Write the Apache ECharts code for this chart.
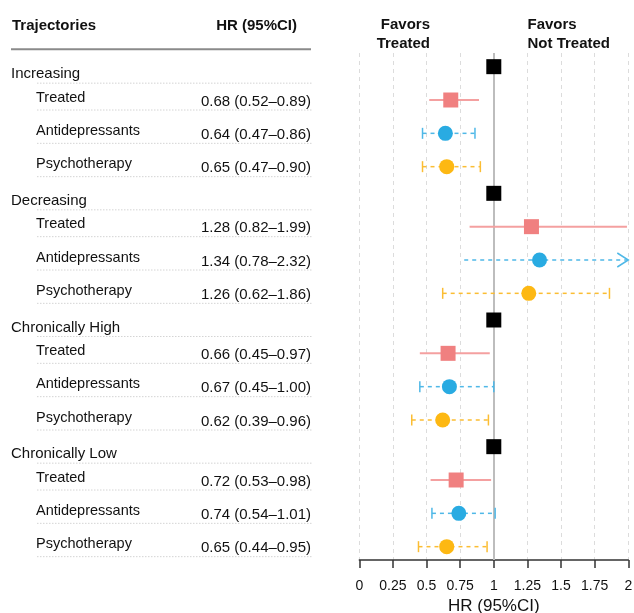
<!DOCTYPE html>
<html>
<head>
<meta charset="utf-8">
<title>Hazard ratios by trajectory</title>
<script src="https://cdn.jsdelivr.net/npm/echarts@6/dist/echarts.min.js"></script>
<style>
  html, body { margin: 0; padding: 0; background: #fff; }
  #chart { width: 634px; height: 613px; }
</style>
</head>
<body>
<div id="chart"></div>
<script>
// ---- data ----
const groups = ['Increasing', 'Decreasing', 'Chronically High', 'Chronically Low'];
const treatments = ['Treated', 'Antidepressants', 'Psychotherapy'];

const refHR = [1, 1, 1, 1];

const treatedHR = [0.68, 1.28, 0.66, 0.72];
const treatedLo = [0.52, 0.82, 0.45, 0.53];
const treatedHi = [0.89, 1.99, 0.97, 0.98];

const antiHR = [0.64, 1.34, 0.67, 0.74];
const antiLo = [0.47, 0.78, 0.45, 0.54];
const antiHi = [0.86, 2.32, 1.00, 1.01];

const psychHR = [0.65, 1.26, 0.62, 0.65];
const psychLo = [0.47, 0.62, 0.39, 0.44];
const psychHi = [0.90, 1.86, 0.96, 0.95];

const xTicks = [0, 0.25, 0.5, 0.75, 1, 1.25, 1.5, 1.75, 2];

// ---- layout of rows (in row units along the vertical value axis) ----
const FONT = "'Liberation Sans', Arial, Helvetica, sans-serif";
const FIRST_ROW = 0.41;
const GROUP_STEP = 3.8;
const Y_MAX = 15.21;
const X_MIN = xTicks[0];
const X_MAX = xTicks[xTicks.length - 1];

function groupPos(g) { return FIRST_ROW + g * GROUP_STEP; }
function rowPos(g, t) { return groupPos(g) + t + 1; }

const fmt = v => v.toFixed(2);
const hrLabel = (h, l, u) => fmt(h) + ' (' + fmt(l) + '\u2013' + fmt(u) + ')';

const estimates = [
  { hr: treatedHR, lo: treatedLo, hi: treatedHi },
  { hr: antiHR, lo: antiLo, hi: antiHi },
  { hr: psychHR, lo: psychLo, hi: psychHi }
];

// rows of the left-hand table
const tableRows = [];
groups.forEach((g, gi) => {
  tableRows.push({ pos: groupPos(gi), header: true, label: g, value: '' });
  treatments.forEach((t, ti) => {
    const e = estimates[ti];
    tableRows.push({
      pos: rowPos(gi, ti), header: false, label: t,
      value: hrLabel(e.hr[gi], e.lo[gi], e.hi[gi])
    });
  });
});

// ---- renderers ----
function tableRenderer(params, api) {
  const r = tableRows[api.value(1)];
  const y = api.coord([0, r.pos])[1];
  const xs = v => api.coord([v, r.pos])[0];
  const children = [];
  const sepY = r.header ? y + 16.5 : y + 10;
  children.push({
    type: 'line',
    shape: { x1: xs(37), y1: sepY, x2: xs(312), y2: sepY },
    style: { stroke: '#d4d4d4', lineWidth: 1, lineDash: [1.5, 1.5] }
  });
  if (r.header) {
    children.push({
      type: 'text',
      style: { text: r.label, x: xs(11), y: y + 7.5, fill: '#111',
        fontSize: 15, fontFamily: FONT,
        align: 'left', verticalAlign: 'middle', textAlign: 'left', textVerticalAlign: 'middle' }
    });
  } else {
    children.push({
      type: 'text',
      style: { text: r.label, x: xs(36), y: y - 2.5, fill: '#111',
        fontSize: 14.5, fontFamily: FONT,
        align: 'left', verticalAlign: 'middle', textAlign: 'left', textVerticalAlign: 'middle' }
    });
    children.push({
      type: 'text',
      style: { text: r.value, x: xs(311), y: y + 1.5, fill: '#111',
        fontSize: 15, fontFamily: FONT,
        align: 'right', verticalAlign: 'middle', textAlign: 'right', textVerticalAlign: 'middle' }
    });
  }
  return { type: 'group', children };
}

function barRenderer(lineStyle, withCaps) {
  return function (params, api) {
    const lo = api.value(0), hi = api.value(1), pos = api.value(2);
    const clipped = hi > X_MAX;
    const a = api.coord([Math.max(lo, X_MIN), pos]);
    const b = api.coord([Math.min(hi, X_MAX), pos]);
    const stroke = { stroke: lineStyle.color, lineWidth: lineStyle.width, lineDash: lineStyle.dash || null };
    const children = [{
      type: 'line',
      shape: { x1: a[0], y1: a[1], x2: b[0], y2: b[1] },
      style: stroke
    }];
    if (clipped) {
      children.push({
        type: 'polyline',
        shape: { points: [[b[0] - 11, b[1] - 7], [b[0], b[1]], [b[0] - 11, b[1] + 7]] },
        style: { stroke: lineStyle.color, lineWidth: 1.5, fill: null }
      });
    } else if (withCaps) {
      [a, b].forEach(p => children.push({
        type: 'line',
        shape: { x1: p[0], y1: p[1] - 5.5, x2: p[0], y2: p[1] + 5.5 },
        style: { stroke: lineStyle.color, lineWidth: 1.5 }
      }));
    }
    return { type: 'group', children };
  };
}

function barData(e, t) {
  return groups.map((g, gi) => [e.lo[gi], e.hi[gi], rowPos(gi, t)]);
}
function pointData(vals, t) {
  return groups.map((g, gi) => [vals[gi], t < 0 ? groupPos(gi) : rowPos(gi, t)]);
}

const chart = echarts.init(document.getElementById('chart'), null, { renderer: 'canvas' });

const boldText = { fontSize: 15, fontWeight: 'bold', fontFamily: FONT, fill: '#111' };

chart.setOption({
  animation: false,
  backgroundColor: '#fff',
  textStyle: { fontFamily: FONT },
  grid: [
    { left: 359.3, top: 53, width: 269, height: 507, outerBoundsMode: 'none', containLabel: false },
    { left: 0, top: 53, width: 320, height: 507, outerBoundsMode: 'none', containLabel: false }
  ],
  xAxis: [
    {
      gridIndex: 0, type: 'value', min: X_MIN, max: X_MAX, interval: xTicks[1] - xTicks[0],
      axisLine: { show: true, onZero: false, lineStyle: { color: '#333', width: 1.5 } },
      axisTick: { show: true, length: 8, lineStyle: { color: '#333', width: 1.5 } },
      axisLabel: { fontSize: 14, color: '#111', margin: 19, fontFamily: FONT,
        showMinLabel: true, showMaxLabel: true },
      splitLine: { show: true, lineStyle: { color: '#dcdcdc', type: [4, 4], width: 1 } },
      name: 'HR (95%CI)', nameLocation: 'middle', nameGap: 37,
      nameTextStyle: { fontSize: 17, color: '#111', fontFamily: FONT }
    },
    { gridIndex: 1, type: 'value', min: 0, max: 320, show: false }
  ],
  yAxis: [
    { gridIndex: 0, type: 'value', min: 0, max: Y_MAX, inverse: true, show: false },
    { gridIndex: 1, type: 'value', min: 0, max: Y_MAX, inverse: true, show: false }
  ],
  graphic: [
    { type: 'text', left: 12, top: 18, style: Object.assign({ text: 'Trajectories' }, boldText) },
    { type: 'text', right: 634 - 297, top: 18, style: Object.assign({ text: 'HR (95%CI)' }, boldText) },
    { type: 'line', shape: { x1: 11, y1: 49.3, x2: 311, y2: 49.3 }, style: { stroke: '#8a8a8a', lineWidth: 2 } },
    { type: 'text', right: 634 - 430, top: 17, style: Object.assign({ text: 'Favors' }, boldText) },
    { type: 'text', right: 634 - 430, top: 36, style: Object.assign({ text: 'Treated' }, boldText) },
    { type: 'text', left: 527.5, top: 17, style: Object.assign({ text: 'Favors' }, boldText) },
    { type: 'text', left: 527.5, top: 36, style: Object.assign({ text: 'Not Treated' }, boldText) }
  ],
  series: [
    {
      name: 'table', type: 'custom', xAxisIndex: 1, yAxisIndex: 1, clip: false, silent: true,
      renderItem: tableRenderer,
      data: tableRows.map((r, i) => [0, i]),
      encode: { x: 0, y: -1 }
    },
    {
      name: 'Treated CI', type: 'custom', xAxisIndex: 0, yAxisIndex: 0, silent: true, z: 3,
      renderItem: barRenderer({ color: '#F4A0A0', width: 2 }, false),
      data: barData(estimates[0], 0), encode: { x: [0, 1], y: 2 }
    },
    {
      name: 'Antidepressants CI', type: 'custom', xAxisIndex: 0, yAxisIndex: 0, silent: true, z: 3,
      renderItem: barRenderer({ color: '#4FB8E7', width: 1.5, dash: [4, 4] }, true),
      data: barData(estimates[1], 1), encode: { x: [0, 1], y: 2 }
    },
    {
      name: 'Psychotherapy CI', type: 'custom', xAxisIndex: 0, yAxisIndex: 0, silent: true, z: 3,
      renderItem: barRenderer({ color: '#FBBD33', width: 1.5, dash: [4, 4] }, true),
      data: barData(estimates[2], 2), encode: { x: [0, 1], y: 2 }
    },
    {
      name: 'Reference', type: 'scatter', xAxisIndex: 0, yAxisIndex: 0, silent: true, z: 4,
      symbol: 'rect', symbolSize: 15, itemStyle: { color: '#000', opacity: 1 },
      data: pointData(refHR, -1),
      markLine: {
        silent: true, symbol: 'none', label: { show: false }, z: 1,
        lineStyle: { color: '#bdbdbd', width: 2, type: 'solid' },
        data: [{ xAxis: 1 }]
      }
    },
    {
      name: 'Treated', type: 'scatter', xAxisIndex: 0, yAxisIndex: 0, silent: true, z: 5,
      symbol: 'rect', symbolSize: 15, itemStyle: { color: '#F08080', opacity: 1 },
      data: pointData(treatedHR, 0)
    },
    {
      name: 'Antidepressants', type: 'scatter', xAxisIndex: 0, yAxisIndex: 0, silent: true, z: 5,
      symbol: 'circle', symbolSize: 15, itemStyle: { color: '#29ABE2', opacity: 1 },
      data: pointData(antiHR, 1)
    },
    {
      name: 'Psychotherapy', type: 'scatter', xAxisIndex: 0, yAxisIndex: 0, silent: true, z: 5,
      symbol: 'circle', symbolSize: 15, itemStyle: { color: '#FDB813', opacity: 1 },
      data: pointData(psychHR, 2)
    }
  ]
});
</script>
</body>
</html>
